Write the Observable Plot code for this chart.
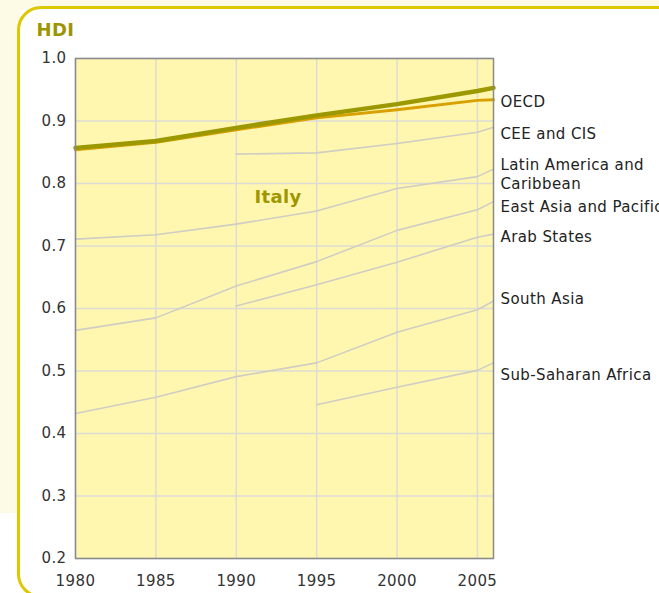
<!DOCTYPE html>
<html>
<head>
<meta charset="utf-8">
<script src="https://cdn.jsdelivr.net/npm/d3@7"></script>
<script src="https://cdn.jsdelivr.net/npm/@observablehq/plot@0.6"></script>
<style>
  html, body { margin: 0; padding: 0; background: #ffffff; }
  #wrap { position: relative; width: 659px; height: 593px; overflow: hidden; background: #ffffff; font-family: "DejaVu Sans", Verdana, sans-serif; }
  .cream { position: absolute; background: #fdfbe6; }
  #box { position: absolute; left: 17px; top: 6px; width: 720px; height: 592px; box-sizing: border-box; border: 3px solid #dcc800; border-radius: 24px; background: #ffffff; }
  #chart { position: absolute; left: 0; top: 0; }
</style>
</head>
<body>
<div id="wrap">
  <div class="cream" style="left:0;top:0;width:659px;height:10px;"></div>
  <div class="cream" style="left:0;top:0;width:20px;height:513px;"></div>
  <div id="box"></div>
  <div id="chart"></div>
</div>
<script>
// ---- data ----
const years = [1980, 1985, 1990, 1995, 2000, 2005, 2006];
const italy = [0.857, 0.868, 0.889, 0.909, 0.927, 0.948, 0.953];
const oecd = [0.854, 0.866, 0.886, 0.905, 0.918, 0.933, 0.934];
const ceeCis = [null, null, 0.847, 0.849, 0.864, 0.882, 0.890];
const latinAmerica = [0.711, 0.718, 0.735, 0.756, 0.792, 0.811, 0.823];
const eastAsia = [0.565, 0.585, 0.636, 0.675, 0.725, 0.758, 0.771];
const arabStates = [null, null, 0.604, 0.638, 0.674, 0.714, 0.719];
const southAsia = [0.432, 0.458, 0.491, 0.513, 0.562, 0.598, 0.612];
const subSaharan = [null, null, null, 0.446, 0.474, 0.501, 0.513];
const regionNames = ["OECD", "CEE and CIS", "Latin America and\nCaribbean", "East Asia and Pacific", "Arab States", "South Asia", "Sub-Saharan Africa"];
const xTicks = [1980, 1985, 1990, 1995, 2000, 2005];
const yTicks = [0.2, 0.3, 0.4, 0.5, 0.6, 0.7, 0.8, 0.9, 1.0];
const yLabel = "HDI";
const highlightName = "Italy";

// ---- build tidy tables ----
const toRows = (name, vals) => years.map((y, i) => ({name, year: y, hdi: vals[i]})).filter(d => d.hdi != null);
const grayRegions = [
  ["CEE and CIS", ceeCis],
  ["Latin America and\nCaribbean", latinAmerica],
  ["East Asia and Pacific", eastAsia],
  ["Arab States", arabStates],
  ["South Asia", southAsia],
  ["Sub-Saharan Africa", subSaharan]
];
const grayRows = grayRegions.flatMap(([n, v]) => toRows(n, v));
const oecdRows = toRows("OECD", oecd);
const italyRows = toRows("Italy", italy);
const allRegion = [["OECD", oecd], ...grayRegions];
const labelRows = regionNames.map(n => {
  const vals = allRegion.find(r => r[0] === n)[1];
  return {name: n, year: years[years.length - 1], hdi: vals[vals.length - 1]};
});
// small pixel nudges to keep labels apart, as in the original
const nudge = {"OECD": 1, "CEE and CIS": 5, "Latin America and\nCaribbean": 4, "East Asia and Pacific": 4, "Arab States": 2, "South Asia": -3, "Sub-Saharan Africa": 11};

const font = "DejaVu Sans, Verdana, sans-serif";
const chart = Plot.plot({
  width: 659,
  height: 593,
  marginLeft: 75,
  marginRight: 166,
  marginTop: 58,
  marginBottom: 35,
  style: {background: "transparent", fontFamily: font, fontSize: "15px", color: "#333", overflow: "visible"},
  x: {domain: [1980, 2006], ticks: xTicks, tickFormat: d => String(d)},
  y: {domain: [0.2, 1.0], ticks: yTicks, tickFormat: d3.format(".1f")},
  marks: [
    Plot.frame({fill: "#fff7af", stroke: null}),
    Plot.gridX(xTicks, {stroke: "#dcdcd4", strokeOpacity: 1, strokeWidth: 1.5}),
    Plot.gridY(yTicks, {stroke: "#dcdcd4", strokeOpacity: 1, strokeWidth: 1.5}),
    Plot.line(grayRows, {x: "year", y: "hdi", z: "name", stroke: "#cfcdc4", strokeWidth: 1.6}),
    Plot.line(oecdRows, {x: "year", y: "hdi", stroke: "#d8a000", strokeWidth: 3}),
    Plot.line(italyRows, {x: "year", y: "hdi", stroke: "#9c9800", strokeWidth: 4.5}),
    Plot.frame({stroke: "#8a8a8a", strokeWidth: 1.5}),
    Plot.axisX({ticks: xTicks, tickSize: 0, tickPadding: 17, tickFormat: d => String(d), fill: "#333", fontSize: 15, label: null}),
    Plot.axisY({ticks: yTicks, tickSize: 0, tickPadding: 9, tickFormat: d3.format(".1f"), fill: "#333", fontSize: 15, label: null}),
    ...labelRows.map(r => Plot.text([r], {x: "year", y: "hdi", text: "name", textAnchor: "start", dx: 7, dy: nudge[r.name], fill: "#222", fontSize: 15, lineHeight: 1.3, fontFamily: font})),
    Plot.text([yLabel], {frameAnchor: "top-left", text: d => d, dx: -39, dy: -35, fill: "#9c9400", fontWeight: "bold", fontSize: 18, textAnchor: "start", fontFamily: font}),
    Plot.text([highlightName], {x: () => 1992.6, y: () => 0.778, text: d => d, fill: "#a09600", fontWeight: "bold", fontSize: 18, textAnchor: "middle", fontFamily: font})
  ]
});
chart.querySelectorAll("text").forEach(t => t.style.letterSpacing = "0.4px");
document.getElementById("chart").appendChild(chart);
</script>
</body>
</html>
